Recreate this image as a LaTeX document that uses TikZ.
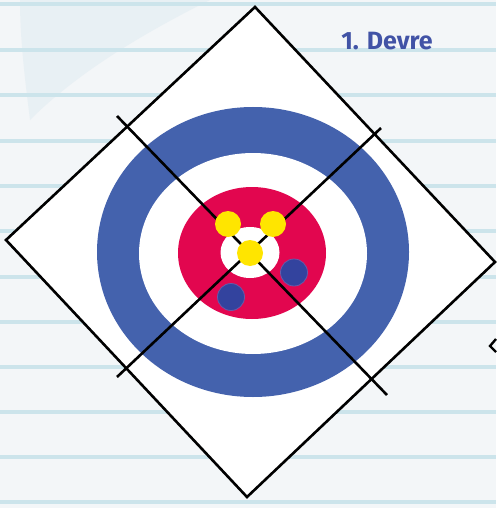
\documentclass[tikz,border=0pt]{standalone}
\usepackage{fontspec}
\newfontfamily\labelfont{Fira Sans}
\definecolor{paper}{HTML}{F3F6F8}
\definecolor{rule}{HTML}{CCE4EB}
\definecolor{wash}{HTML}{DCE9F0}
\definecolor{ringblue}{HTML}{4462AD}
\definecolor{stoneblue}{HTML}{33439E}
\definecolor{stoneedge}{HTML}{6A5AA8}
\definecolor{housered}{HTML}{E2064F}
\definecolor{stoneyellow}{HTML}{FFE500}
\definecolor{textblue}{HTML}{4153A6}
\tikzset{
  outline/.style={draw=black, line width=2.6pt, line join=miter},
  crossline/.style={draw=black, line width=2.6pt},
  yellowstone/.style={circle, fill=stoneyellow, minimum size=26pt, inner sep=0pt},
  bluestone/.style={circle, fill=stoneblue, draw=stoneedge, line width=0.8pt, minimum size=27pt, inner sep=0pt},
  paperrule/.style={draw=rule, line width=3.2pt},
}
\begin{document}
\begin{tikzpicture}[x=1pt,y=-1pt]
\useasboundingbox (0,0) rectangle (496,508);
% paper
\fill[paper] (0,0) rectangle (496,508);
\fill[wash, opacity=0.45] (20,0) -- (210,0) .. controls (150,30) and (80,70) .. (30,120) .. controls (25,80) and (20,40) .. (20,0) -- cycle;
\foreach \yy in {4,50,95,141,186,231,277,322,367,412,457,502}
  \draw[paperrule] (0,\yy) -- (496,\yy);
% sheet
\coordinate (T) at (255,7);
\coordinate (R) at (495,262);
\coordinate (B) at (247,497);
\coordinate (L) at (6,240);
\filldraw[fill=white, outline] (T) -- (R) -- (B) -- (L) -- cycle;
% house
\fill[ringblue] (253,252) ellipse [x radius=156, y radius=145];
\fill[white] (253,253.5) ellipse [x radius=114, y radius=100.5];
\fill[housered] (252,253) ellipse [x radius=74, y radius=66];
\fill[white] (250,252.5) ellipse [x radius=29.5, y radius=25.5];
% cross lines
\coordinate (c1a) at (117,116);
\coordinate (c1b) at (387,395);
\coordinate (c2a) at (381,128);
\coordinate (c2b) at (117,377);
\draw[crossline] (c1a) -- (c1b);
\draw[crossline] (c2a) -- (c2b);
% stones
\node[yellowstone] (y1) at (228,224) {};
\node[yellowstone] (y2) at (273,224) {};
\node[yellowstone] (y3) at (250,253) {};
\node[bluestone] (b1) at (294,272.5) {};
\node[bluestone] (b2) at (231,297) {};
% label
\node[text=textblue, font=\labelfont\bfseries\fontsize{25}{28}\selectfont, inner sep=0pt] (lbl) at (387,41) {1. Devre};
% partial mark at right edge
\coordinate (m1) at (496,339);
\coordinate (m2) at (490,346);
\coordinate (m3) at (496,352);
\draw[black, line width=2.4pt] (m1) -- (m2) -- (m3);
\end{tikzpicture}
\end{document}
